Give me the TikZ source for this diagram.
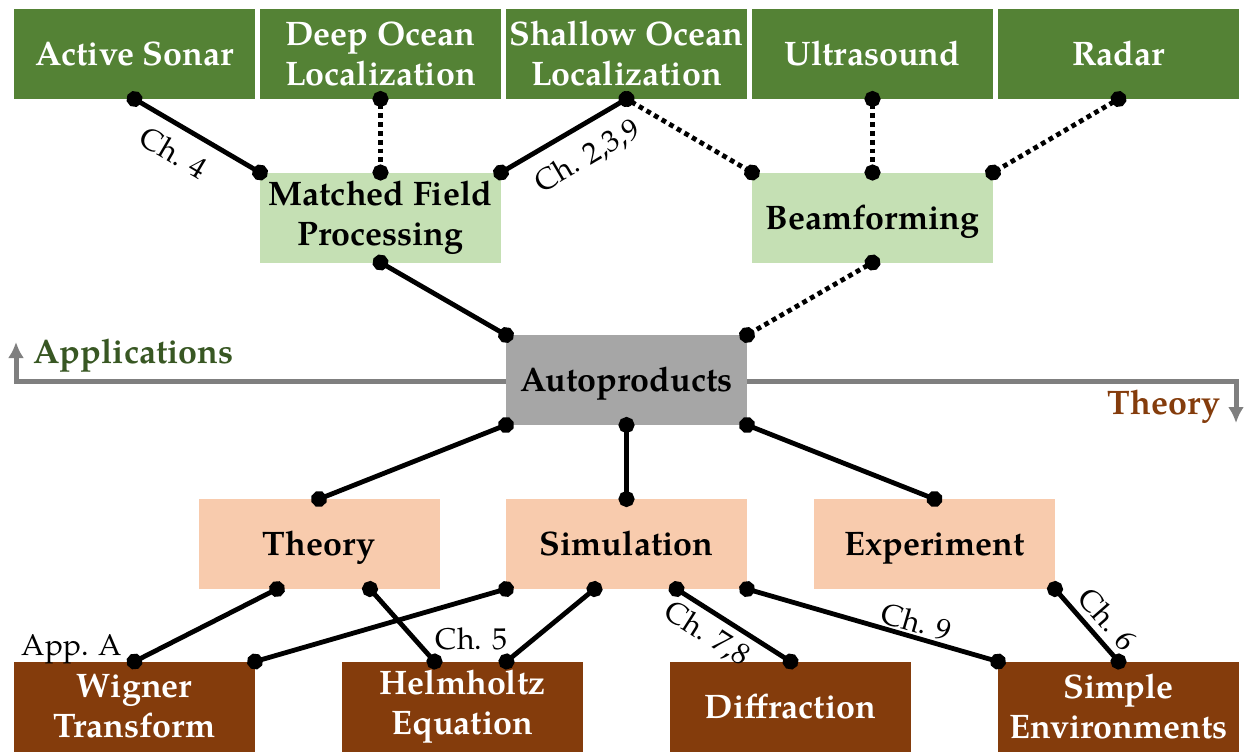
\documentclass[tikz,border=0pt]{standalone}
\usepackage{fontspec}
\setmainfont{TeX Gyre Pagella}
\usepackage{tikz}
\usetikzlibrary{arrows.meta,backgrounds}
\definecolor{appgreen}{HTML}{548235}
\definecolor{methgreen}{HTML}{C5E0B4}
\definecolor{hubgray}{HTML}{A6A6A6}
\definecolor{areaorange}{HTML}{F8CBAD}
\definecolor{topicbrown}{HTML}{843C0C}
\definecolor{axisgray}{HTML}{7F7F7F}
\definecolor{applabel}{HTML}{385723}
\tikzset{
  box/.style={
    rectangle,
    inner sep=0pt,
    outer sep=0pt,
    align=center,
    minimum width=120.5pt,
    minimum height=45pt,
    font=\fontsize{17}{20}\selectfont\bfseries
  },
  oneline/.style={text height=11.7pt, text depth=0pt},
  appbox/.style={box, fill=appgreen, text=white},
  methbox/.style={box, fill=methgreen},
  hubbox/.style={box, fill=hubgray},
  areabox/.style={box, fill=areaorange},
  topicbox/.style={box, fill=topicbrown, text=white},
  link/.style={line width=2.4pt, {Circle[length=8pt]}-{Circle[length=8pt]}, shorten <=-4pt, shorten >=-4pt},
  weak/.style={link, dash pattern=on 2.4pt off 2pt},
  note/.style={font=\fontsize{15}{18}\selectfont},
  chap/.style={note, sloped},
  axislbl/.style={inner sep=0pt, font=\fontsize{17}{20}\selectfont\bfseries},
  axis/.style={draw=axisgray, line width=2.5pt, {Latex[length=8pt,width=8pt]}-{Latex[length=8pt,width=8pt]}}
}
\begin{document}
\begin{tikzpicture}[x=0.5pt, y=-0.5pt]
  \useasboundingbox (0,0) rectangle (1245,751);

  % applications
  \node[appbox, oneline] (sonar) at (134.5,54) {Active Sonar};
  \node[appbox] (deep) at (380.5,54) {Deep Ocean\\Localization};
  \node[appbox] (shallow) at (626.5,54) {Shallow Ocean\\Localization};
  \node[appbox, oneline] (ultra) at (872.5,54) {Ultrasound};
  \node[appbox, oneline] (radar) at (1118.5,54) {Radar};

  % methods
  \node[methbox] (mfp) at (380.5,217.5) {Matched Field\\Processing};
  \node[methbox, oneline] (beam) at (872.5,217.5) {Beamforming};

  \node[hubbox, oneline] (auto) at (626.5,380) {Autoproducts};

  % theory side
  \node[areabox, oneline] (theory) at (319,544) {Theory};
  \node[areabox, oneline] (sim) at (626.5,544) {Simulation};
  \node[areabox, oneline] (exp) at (934.5,544) {Experiment};

  \node[topicbox] (wigner) at (134.5,706.5) {Wigner\\Transform};
  \node[topicbox] (helm) at (462.5,706.5) {Helmholtz\\Equation};
  \node[topicbox, oneline] (diff) at (790.5,706.5) {Diffraction};
  \node[topicbox] (simple) at (1118.5,706.5) {Simple\\Environments};

  \begin{scope}[on background layer]
    \draw[axis] (16,342) -- (16,381) -- (1236,381) -- (1236,423);
  \end{scope}
  \node[axislbl, anchor=base west, text=applabel] (applbl) at (33,363) {Applications};
  \node[axislbl, anchor=base east, text=topicbrown] (thylbl) at (1221,414) {Theory};

  \draw[link] (sonar.south) -- node[chap, below=3pt, pos=0.42] {Ch. 4} (mfp.north west);
  \draw[weak] (deep.south) -- (mfp.north);
  \draw[link] (mfp.north east) -- node[chap, below=4pt, pos=0.57] {Ch. 2,3,9} (shallow.south);
  \draw[weak] (shallow.south) -- (beam.north west);
  \draw[weak] (ultra.south) -- (beam.north);
  \draw[weak] (radar.south) -- (beam.north east);
  \draw[link] (mfp.south) -- (auto.north west);
  \draw[weak] (beam.south) -- (auto.north east);

  \draw[link] (auto.south west) -- (theory.north);
  \draw[link] (auto.south) -- (sim.north);
  \draw[link] (auto.south east) -- (exp.north);

  \draw[link] ([xshift=-21pt]theory.south) -- node[note, at end, anchor=base east, inner sep=0pt, xshift=-5pt, yshift=3pt] {App. A} (wigner.north);
  \draw[link] ([xshift=25.5pt]theory.south) -- ([xshift=-14pt]helm.north);
  \draw[link] (sim.south west) -- (wigner.north east);
  \draw[link] ([xshift=-16pt]sim.south) -- node[note, at end, anchor=base east, inner sep=0pt, xshift=1.5pt, yshift=6pt] {Ch. 5} ([xshift=22pt]helm.north);
  \draw[link] ([xshift=25pt]sim.south) -- node[chap, below, pos=0.37] {Ch. 7,8} (diff.north);
  \draw[link] (sim.south east) -- node[chap, above, inner sep=1pt, pos=0.66] {Ch. 9} (simple.north west);
  \draw[link] (exp.south east) -- node[chap, above, pos=0.6] {Ch. 6} (simple.north);
\end{tikzpicture}
\end{document}
